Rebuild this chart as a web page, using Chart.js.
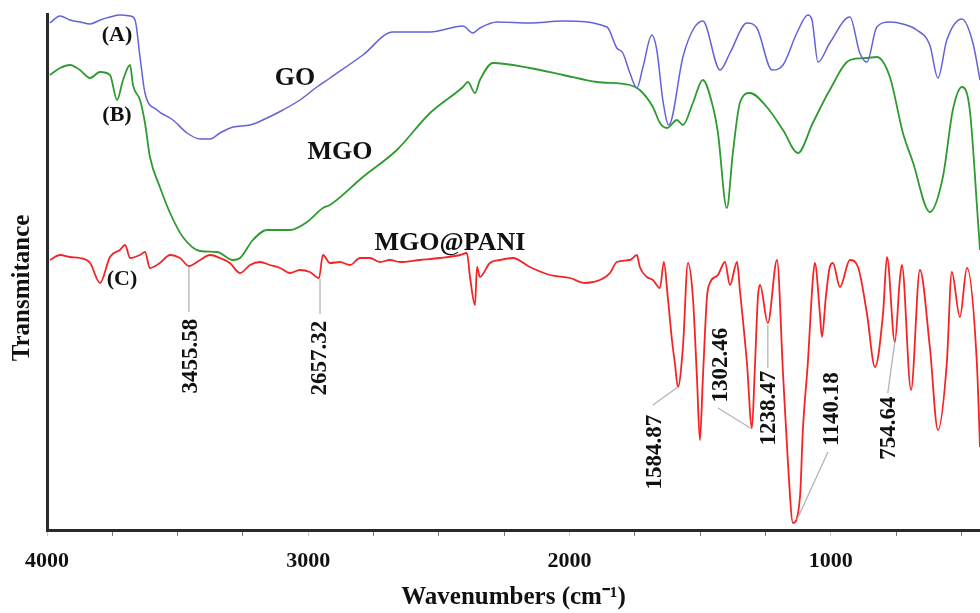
<!DOCTYPE html>
<html>
<head>
<meta charset="utf-8">
<script src="https://cdn.jsdelivr.net/npm/chart.js@4.4.1/dist/chart.umd.min.js"></script>
<style>
  html, body { margin: 0; padding: 0; background: #fff; }
  #ftir { display: block; }
</style>
</head>
<body>
<canvas id="ftir" width="980" height="613"></canvas>
<script>
// FTIR spectra, wavenumber (cm-1) vs transmittance (arbitrary, offset curves)
const waveGO = [3989,3950,3912,3874,3835,3797,3759,3721,3682,3663,3644,3625,3579,3518,3464,3414,3376,3338,3288,3223,3158,3097,3032,2967,2917,2791,2676,2534,2408,2370,2343,2278,2152,2025,1857,1819,1796,1769,1742,1719,1685,1666,1643,1620,1566,1528,1490,1424,1386,1321,1283,1225,1183,1130,1088,1072,1049,1004,927,889,862,824,774,724,671,621,590,556,498,456,429];
const transGO = [101.4,102.8,102,101.6,101.2,102,102.6,103,102.8,102,94.6,87.4,84,82,79.4,78.2,78.2,79.4,80.6,81,82.4,84,86,88.6,90.4,95,99.6,99.6,100.8,99.4,100.4,101.6,101.4,101.8,100.6,96.4,95.4,91.4,88.4,92.6,99,96,86,81,94.6,100,101.8,92,95.4,101.4,100.4,92,93,99.4,103,102,93.6,97.4,102.6,95.4,93.6,100.6,101.6,101.2,100,97,90.4,98,102.2,97.4,90];

const waveMGO = [3989,3950,3912,3874,3835,3797,3759,3732,3709,3682,3671,3644,3625,3606,3568,3529,3480,3414,3349,3288,3261,3212,3158,3070,3005,2944,2917,2791,2661,2534,2408,2389,2362,2343,2293,2152,2025,1895,1769,1731,1681,1654,1627,1589,1566,1528,1490,1451,1432,1398,1375,1348,1310,1245,1183,1126,1069,1004,927,862,824,774,724,686,621,571,533,498,468,437,429];
const transMGO = [91,92.4,93,92,90.4,91.6,91,86,90,93,89,86,81.4,74.6,68.6,63.4,58.6,55.8,55.6,54,54.4,58,60,60,61.6,64.4,65,70.6,76,83.4,88.6,89.6,87.4,90,93.4,92.4,91,89.6,89,88,84.6,81.4,80.4,82,81,85.4,90,84.6,79.4,64.4,75.4,85.4,87.4,84.6,80,75.4,81.4,88,94,94.4,94.6,90.6,79.4,73.6,63.6,70.6,84,88.6,84,62,56];

const wavePANI = [3989,3950,3912,3874,3835,3797,3759,3721,3701,3682,3644,3625,3606,3568,3529,3491,3457,3414,3376,3338,3300,3261,3223,3185,3147,3108,3070,3032,2994,2959,2944,2917,2879,2840,2802,2764,2726,2687,2649,2573,2496,2419,2393,2381,2362,2354,2343,2305,2266,2217,2152,2075,1998,1941,1884,1845,1819,1769,1742,1731,1704,1681,1654,1639,1624,1608,1597,1585,1566,1547,1528,1512,1501,1490,1474,1463,1432,1405,1386,1359,1348,1321,1302,1291,1279,1271,1241,1206,1183,1164,1145,1118,1107,1088,1069,1061,1042,1034,1019,1004,992,965,927,896,862,831,800,785,755,736,728,693,659,621,590,556,537,506,479,441,429];
const transPANI = [54,55,54.6,54.4,53.4,49.4,54.6,56,57,54.4,55,55.6,52.4,53.4,55,54.4,52.8,54,55,54.4,53.4,51.4,53,53.6,53,52.4,51.4,52,51.6,50.4,55,53.4,53.6,53,54.4,54.4,53.6,54,53.6,54,54.4,55,55.4,50.6,45,52.6,50.6,53.4,54,54.4,52.6,51,50.4,49.4,50,51.4,53.6,54,55,52.6,50.6,50,48.4,53.6,46.6,38,33.4,28.6,36.6,53.4,46.6,30,18,30,46.6,49.4,51,53.6,49,53.6,48,33.4,20.4,32,46.6,49,41.4,54,31.4,13.4,1.4,6.6,20,33.4,50,53.4,43.4,38.6,46.6,52.6,53.4,48.6,54,52.6,43.4,32.6,43.4,54.6,37.6,50,53,28,52,36.6,20,33.4,51.6,42.6,52.4,33.4,16.6];

const xTicks = [4000, 3000, 2000, 1000];

// curve names and peak callouts (placed in data units)
const curveLabels = [
  { text: '(A)', x: 3732, y: 99, size: 22 },
  { text: '(B)', x: 3732, y: 83, size: 22 },
  { text: '(C)', x: 3713, y: 50.2, size: 22 },
  { text: 'GO', x: 3051, y: 90.4, size: 26 },
  { text: 'MGO', x: 2879, y: 75.6, size: 26 },
  { text: 'MGO@PANI', x: 2458, y: 57.4, size: 26 }
];
const peakLabels = [
  { text: '3455.58', x: 3449, y: 34.8, line: [3457, 52.6, 3457, 43.6] },
  { text: '2657.32', x: 2955, y: 34.4, line: [2955, 50.2, 2955, 43.2] },
  { text: '1584.87', x: 1673, y: 15.6, line: [1585, 28.6, 1681, 25] },
  { text: '1302.46', x: 1421, y: 33, line: [1302, 20.2, 1432, 24.4] },
  { text: '1238.47', x: 1237, y: 24.4, line: [1241, 41, 1241, 32.4] },
  { text: '1140.18', x: 996, y: 24.2, line: [1130, 2, 1011, 15.6] },
  { text: '754.64', x: 778, y: 20.4, line: [755, 37.6, 782, 27.4] }
];

const toPoints = (xs, ys) => xs.map((x, i) => ({ x: x, y: ys[i] }));
const serif = "'Liberation Serif', 'Times New Roman', serif";

const labelPlugin = {
  id: 'ftirLabels',
  afterDatasetsDraw(chart) {
    const { ctx, chartArea, scales: { x, y } } = chart;
    ctx.save();
    ctx.fillStyle = '#111';
    // leader lines
    ctx.strokeStyle = '#b4b4b4';
    ctx.lineWidth = 1.3;
    peakLabels.forEach((p) => {
      ctx.beginPath();
      ctx.moveTo(x.getPixelForValue(p.line[0]), y.getPixelForValue(p.line[1]));
      ctx.lineTo(x.getPixelForValue(p.line[2]), y.getPixelForValue(p.line[3]));
      ctx.stroke();
    });
    ctx.textAlign = 'center';
    ctx.textBaseline = 'middle';
    peakLabels.forEach((p) => {
      ctx.save();
      ctx.translate(x.getPixelForValue(p.x), y.getPixelForValue(p.y));
      ctx.rotate(-Math.PI / 2);
      ctx.font = 'bold 23px ' + serif;
      ctx.fillText(p.text, 0, 0);
      ctx.restore();
    });
    curveLabels.forEach((c) => {
      ctx.font = 'bold ' + c.size + 'px ' + serif;
      ctx.fillText(c.text, x.getPixelForValue(c.x), y.getPixelForValue(c.y));
    });
    // y axis title
    ctx.save();
    ctx.translate(chartArea.left - 24, (chartArea.top + chartArea.bottom) / 2 + 16);
    ctx.rotate(-Math.PI / 2);
    ctx.font = 'bold 25px ' + serif;
    ctx.fillText('Transmitance', 0, 0);
    ctx.restore();
    ctx.restore();
  }
};

const ctx = document.getElementById('ftir');
const myChart = new Chart(ctx, {
  type: 'line',
  data: {
    datasets: [{
      label: 'GO',
      data: toPoints(waveGO, transGO),
      borderColor: '#6262dc',
      borderWidth: 1.5,
      pointRadius: 0,
      cubicInterpolationMode: 'monotone'
    },
    {
      label: 'MGO',
      data: toPoints(waveMGO, transMGO),
      borderColor: '#2f9a2f',
      borderWidth: 1.8,
      pointRadius: 0,
      cubicInterpolationMode: 'monotone'
    },
    {
      label: 'MGO@PANI',
      data: toPoints(wavePANI, transPANI),
      borderColor: '#f42424',
      borderWidth: 1.8,
      pointRadius: 0,
      cubicInterpolationMode: 'monotone'
    }]
  },
  options: {
    responsive: false,
    animation: false,
    devicePixelRatio: 1,
    layout: { padding: { top: 14, left: 0, right: 0, bottom: 0 } },
    plugins: {
      legend: { display: false },
      tooltip: { enabled: false }
    },
    scales: {
      x: {
        type: 'linear',
        reverse: true,
        min: 429,
        max: 4000,
        afterFit: (scale) => { scale.height = 83; },
        ticks: {
          stepSize: 250,
          includeBounds: false,
          autoSkip: false,
          maxRotation: 0,
          padding: 12,
          color: '#111',
          font: { family: serif, size: 22, weight: 'bold' },
          callback: (v) => (xTicks.includes(v) ? String(v) : '')
        },
        grid: {
          drawOnChartArea: false,
          drawTicks: true,
          tickLength: 6,
          color: (c) => (c.tick && xTicks.includes(c.tick.value) ? '#c8c8c8' : '#777')
        },
        border: { display: true, color: '#2a2a2a', width: 3 },
        title: {
          display: true,
          text: 'Wavenumbers (cm\u207B\u00B9)',
          color: '#111',
          padding: { top: 0, bottom: 0 },
          font: { family: serif, size: 25, weight: 'bold' }
        }
      },
      y: {
        min: 0,
        max: 103.2,
        afterFit: (scale) => { scale.width = 47; },
        ticks: { display: false },
        grid: { display: false },
        border: { display: true, color: '#2a2a2a', width: 3 }
      }
    }
  },
  plugins: [labelPlugin]
});
</script>
</body>
</html>
